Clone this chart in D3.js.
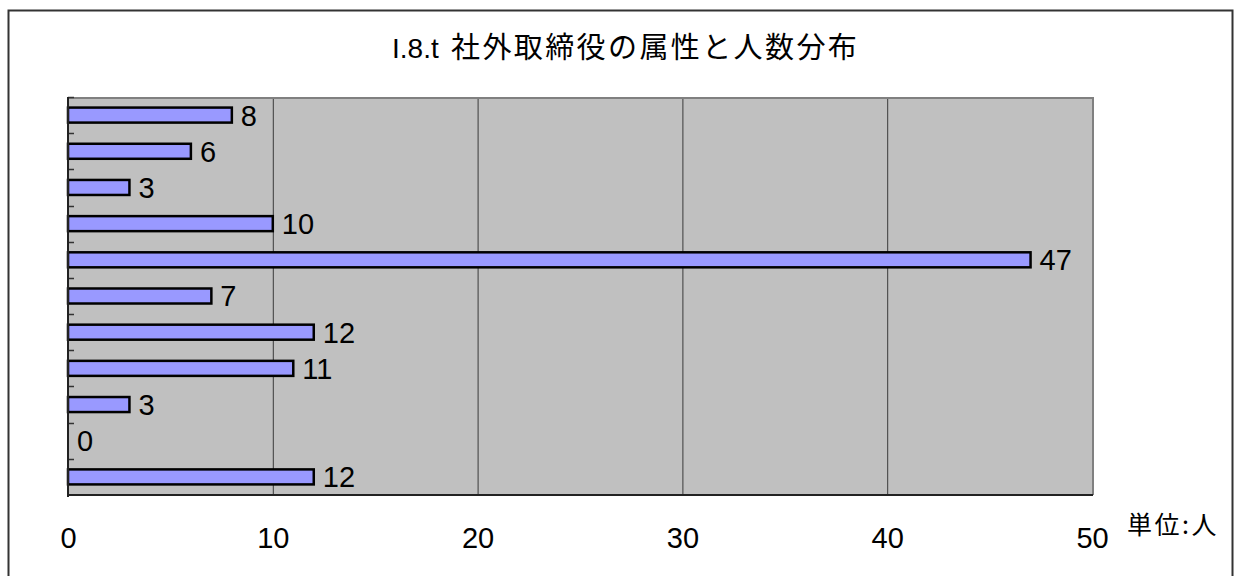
<!DOCTYPE html>
<html>
<head>
<meta charset="utf-8">
<script src="https://cdn.jsdelivr.net/npm/d3@7"></script>
<style>
  html, body { margin: 0; padding: 0; background: #fff; }
  svg { display: block; }
  text { font-family: "Liberation Sans", Arial, sans-serif; fill: #000; }
  .jp { font-family: "Noto Sans CJK JP", "Liberation Sans", sans-serif; }
</style>
</head>
<body>
<svg id="chart" width="1234" height="576"></svg>
<script>
// Attribute groups, listed top to bottom (labels are not shown on the axis)
const categories = ["1", "2", "3", "4", "5", "6", "7", "8", "9", "10", "11"];
// Number of outside directors in each group
const counts = [8, 6, 3, 10, 47, 7, 12, 11, 3, 0, 12];
const xTicks = [0, 10, 20, 30, 40, 50];
const titleNumber = "I.8.t";
const titleText = "社外取締役の属性と人数分布";
const unitText = "単位:人";

const svg = d3.select("#chart");
const plot = { left: 68, right: 1092, top: 97, bottom: 495 };
const labelSize = 29;

// outer frame
svg.append("rect")
  .attr("x", 8.5).attr("y", 10.5)
  .attr("width", 1224).attr("height", 580)
  .attr("fill", "#fff").attr("stroke", "#333").attr("stroke-width", 2);

const x = d3.scaleLinear().domain([0, 50]).range([plot.left, plot.right]);
const y = d3.scaleBand().domain(categories)
  .range([plot.top, plot.bottom]).paddingInner(0.585).paddingOuter(0.2925);

// plot background
svg.append("rect")
  .attr("x", plot.left).attr("y", plot.top)
  .attr("width", plot.right - plot.left).attr("height", plot.bottom - plot.top)
  .attr("fill", "#C0C0C0");

// vertical gridlines
svg.append("g").selectAll("line")
  .data(xTicks.filter(d => d > 0 && d < 50))
  .join("line")
  .attr("x1", d => x(d) + 0.5).attr("x2", d => x(d) + 0.5)
  .attr("y1", plot.top).attr("y2", plot.bottom)
  .attr("stroke", "#3a3a3a").attr("stroke-width", 1);

// top / right border of plot area
svg.append("path")
  .attr("d", `M${plot.left},${plot.top + 1}H${plot.right + 1}V${plot.bottom}`)
  .attr("fill", "none").attr("stroke", "#808080").attr("stroke-width", 2);

// bars
svg.append("g").selectAll("rect")
  .data(counts)
  .join("rect")
  .attr("x", x(0))
  .attr("y", (d, i) => y(categories[i]))
  .attr("width", d => x(d) - x(0))
  .attr("height", y.bandwidth())
  .attr("fill", "#9999FF")
  .attr("stroke", "#000")
  .attr("stroke-width", 2.5)
  .attr("display", d => d === 0 ? "none" : null);

// value labels
svg.append("g").selectAll("text")
  .data(counts)
  .join("text")
  .attr("x", d => x(d) + 9)
  .attr("y", (d, i) => y(categories[i]) + y.bandwidth() / 2)
  .attr("dy", "0.36em")
  .attr("font-size", labelSize)
  .text(d => d);

// category axis (inward ticks at band boundaries)
const boundaries = d3.range(categories.length + 1).map(i => plot.top + i * (plot.bottom - plot.top) / categories.length);
svg.append("g").selectAll("line")
  .data(boundaries.slice(0, -1))
  .join("line")
  .attr("x1", plot.left).attr("x2", plot.left + 6)
  .attr("y1", d => Math.round(d) + 0.5).attr("y2", d => Math.round(d) + 0.5)
  .attr("stroke", "#333").attr("stroke-width", 1.5);

svg.append("line")
  .attr("x1", plot.left).attr("x2", plot.left)
  .attr("y1", plot.top).attr("y2", plot.bottom + 2)
  .attr("stroke", "#222").attr("stroke-width", 2);

// value axis
const xAxis = d3.axisBottom(x).tickValues(xTicks).tickSize(0).tickPadding(32);
const gx = svg.append("g")
  .attr("transform", `translate(0,${plot.bottom})`)
  .call(xAxis);
gx.select(".domain").attr("stroke", "#222").attr("stroke-width", 2)
  .attr("d", `M${plot.left},0H${plot.right + 1}`);
gx.selectAll("text")
  .attr("font-family", "Liberation Sans, Arial, sans-serif")
  .attr("font-size", labelSize)
  .attr("fill", "#000");

// title
const title = svg.append("text")
  .attr("x", 392).attr("y", 58)
  .attr("font-size", 28);
title.append("tspan").text(titleNumber);
title.append("tspan")
  .attr("class", "jp")
  .attr("x", 451)
  .attr("font-size", 29)
  .attr("letter-spacing", 2.4)
  .text(titleText);

// unit note
svg.append("text")
  .attr("class", "jp")
  .attr("x", 1127).attr("y", 534)
  .attr("font-size", 25)
  .attr("letter-spacing", 2.5)
  .text(unitText);
</script>
</body>
</html>
